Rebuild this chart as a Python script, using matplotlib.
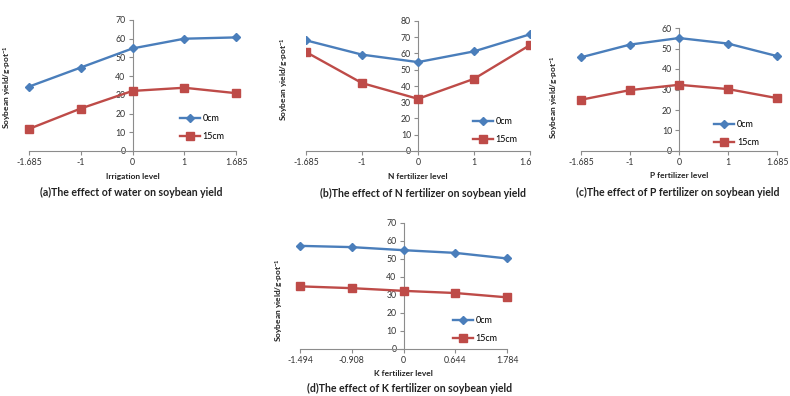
import matplotlib
matplotlib.use("Agg")
import matplotlib.pyplot as plt
from matplotlib.transforms import Bbox, TransformedBbox

plt.rcParams['font.family'] = ['Lato', 'DejaVu Sans']
plt.rcParams['mathtext.default'] = 'regular'

# values
water_levels = ['-1.685', '-1', '0', '1', '1.685']
water_0cm = [34.4, 44.6, 54.8, 60.0, 60.7]
water_15cm = [11.8, 22.7, 32.1, 33.8, 30.9]

n_levels = ['-1.685', '-1', '0', '1', '1.685']
n_0cm = [68.1, 59.3, 54.7, 61.3, 71.8]
n_15cm = [60.9, 41.8, 32.1, 44.4, 65.2]

p_levels = ['-1.685', '-1', '0', '1', '1.685']
p_0cm = [45.7, 51.9, 55.1, 52.4, 46.3]
p_15cm = [25.0, 29.7, 32.3, 30.2, 25.8]

k_levels = ['-1.494', '-0.908', '0', '0.644', '1.784']
k_0cm = [57.3, 56.6, 54.9, 53.4, 50.3]
k_15cm = [34.8, 33.8, 32.3, 31.1, 28.7]

series_names = ['0cm', '15cm']
blue = '#4A7EBB'
red = '#BE4B48'
axis_grey = '#8C8C8C'

W, H = 790, 396
fig = plt.figure(figsize=(W / 100, H / 100), dpi=100)


def px_axes(x0, x1, ytop, ybot):
    # pixel box -> figure fraction
    return fig.add_axes([x0 / W, 1 - ybot / H, (x1 - x0) / W, (ybot - ytop) / H])


def draw_panel(ax, levels, s0, s15, ymax, xlabel, ylab_xy, leg_xy, clip_lines=False):
    xs = range(len(levels))
    ax.plot(xs, s0, color=blue, lw=1.7, marker='D', ms=4.5, mec=blue,
            clip_on=clip_lines, label=series_names[0], zorder=3)
    ax.plot(xs, s15, color=red, lw=1.7, marker='s', ms=5.5, mec=red,
            clip_on=clip_lines, label=series_names[1], zorder=3)
    ax.set_xlim(0, len(levels) - 1)
    ax.set_ylim(0, ymax)
    ax.set_yticks(range(0, ymax + 1, 10))
    ax.set_xticks(list(xs))
    ax.set_xticklabels(levels)
    for s in ['top', 'right']:
        ax.spines[s].set_visible(False)
    ax.spines['left'].set_position(('data', 2))
    ax.spines['left'].set_color(axis_grey)
    ax.spines['bottom'].set_color(axis_grey)
    ax.tick_params(axis='both', labelsize=6.3, colors=axis_grey, labelcolor='#333333',
                   length=3, width=0.8, pad=2)
    ax.set_xlabel(xlabel, fontsize=6, fontweight='bold', color='#222222')
    ax.xaxis.set_label_coords(0.5, -0.17)
    ax.set_ylabel('Soybean yield/g·pot$^{-1}$', fontsize=6, fontweight='bold', color='#222222')
    ax.yaxis.set_label_coords(*ylab_xy)
    ax.legend(loc='upper left', bbox_to_anchor=leg_xy, frameon=False, fontsize=6.5,
              borderpad=0, borderaxespad=0, handlelength=2.2, handletextpad=0.3,
              labelspacing=1.0)
    ax.patch.set_alpha(0)


ax_a = px_axes(29, 236, 20, 151)
draw_panel(ax_a, water_levels, water_0cm, water_15cm, 70, 'Irrigation level',
           (-0.077, 0.49), (0.73, 0.28))

ax_b = px_axes(306, 530, 21, 151)
draw_panel(ax_b, n_levels, n_0cm, n_15cm, 80, 'N fertilizer level',
           (-0.072, 0.55), (0.745, 0.26), clip_lines=True)
# right edge of panel (b) is cropped in the original
clip = TransformedBbox(Bbox([[0, 0], [531 / W, 1]]), fig.transFigure)
for lab in ax_b.get_xticklabels():
    lab.set_clip_box(clip)
    lab.set_clip_on(True)

ax_c = px_axes(581, 777, 28, 151)
draw_panel(ax_c, p_levels, p_0cm, p_15cm, 60, 'P fertilizer level',
           (-0.107, 0.44), (0.68, 0.25))

ax_d = px_axes(300, 507, 223, 349)
draw_panel(ax_d, k_levels, k_0cm, k_15cm, 70, 'K fertilizer level',
           (-0.072, 0.39), (0.74, 0.26))

captions = [
    (131, 192, '(a)The effect of water on soybean yield'),
    (423, 193, '(b)The effect of N fertilizer on soybean yield'),
    (678, 192, '(c)The effect of P fertilizer on soybean yield'),
    (410, 388, '(d)The effect of K fertilizer on soybean yield'),
]
for cx, cy, txt in captions:
    fig.text(cx / W, 1 - cy / H, txt, ha='center', va='center', fontsize=7.6,
             fontweight='bold', color='#222222')

fig.savefig('out.png', dpi=100)
